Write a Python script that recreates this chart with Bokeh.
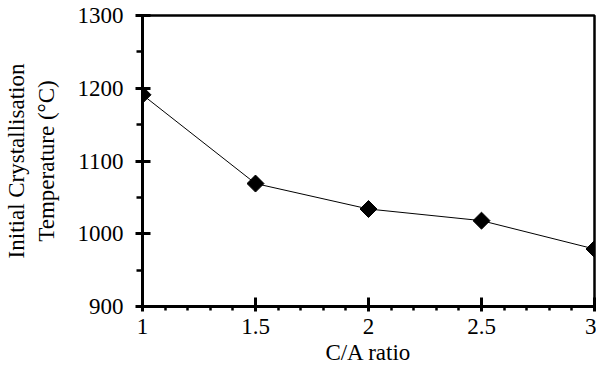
import numpy as np
from bokeh.plotting import figure
from bokeh.models import Range1d, FixedTicker
from bokeh.embed import file_html
from bokeh.resources import INLINE

ca_ratio = [1.0, 1.5, 2.0, 2.5, 3.0]
temperature = [1191, 1069, 1034, 1018, 979]
x_ticks = [1, 1.5, 2, 2.5, 3]
y_ticks = [900, 1000, 1100, 1200, 1300]
x_minor = [1.1, 1.2, 1.3, 1.4, 1.6, 1.7, 1.8, 1.9, 2.1, 2.2, 2.3, 2.4, 2.6, 2.7, 2.8, 2.9]
y_minor = [950, 1050, 1150, 1250]

FONT = "Liberation Serif"

p = figure(width=596, height=367, output_backend="svg", toolbar_location=None,
           x_range=Range1d(1, 3), y_range=Range1d(900, 1300),
           min_border_left=136, min_border_right=2, min_border_top=15, min_border_bottom=60)

p.line(ca_ratio, temperature, line_color="black", line_width=1)
p.scatter(ca_ratio, temperature, marker="square", size=12, angle=np.pi/4,
          fill_color="black", line_color="black")

p.xgrid.visible = False
p.ygrid.visible = False
p.outline_line_color = "black"
p.outline_line_width = 2.5
p.outline_line_alpha = 1

p.xaxis.ticker = FixedTicker(ticks=x_ticks, minor_ticks=x_minor)
p.yaxis.ticker = FixedTicker(ticks=y_ticks, minor_ticks=y_minor)

p.axis.axis_line_width = 3
p.axis.axis_line_color = "black"
p.axis.major_tick_line_width = 3
p.axis.minor_tick_line_width = 2.5
p.axis.major_tick_line_color = "black"
p.axis.minor_tick_line_color = "black"
p.axis.major_label_text_font = FONT
p.axis.major_label_text_font_size = "23px"
p.axis.major_label_text_color = "black"
p.axis.axis_label_text_font = FONT
p.axis.axis_label_text_font_size = "23px"
p.axis.axis_label_text_font_style = "normal"
p.axis.axis_label_text_color = "black"

p.xaxis.axis_label = "C/A ratio"
p.xaxis.major_tick_in = 9
p.xaxis.major_tick_out = 5
p.xaxis.minor_tick_in = 0
p.xaxis.minor_tick_out = 4
p.xaxis.major_label_standoff = 7
p.xaxis.axis_label_standoff = 3

p.yaxis.axis_label = "Initial Crystallisation\nTemperature (\u00b0C)"
p.yaxis.major_tick_in = 8
p.yaxis.major_tick_out = 7
p.yaxis.minor_tick_in = 0
p.yaxis.minor_tick_out = 6
p.yaxis.major_label_standoff = 12
p.yaxis.axis_label_standoff = 16

open("out.html", "w").write(file_html(p, INLINE))
